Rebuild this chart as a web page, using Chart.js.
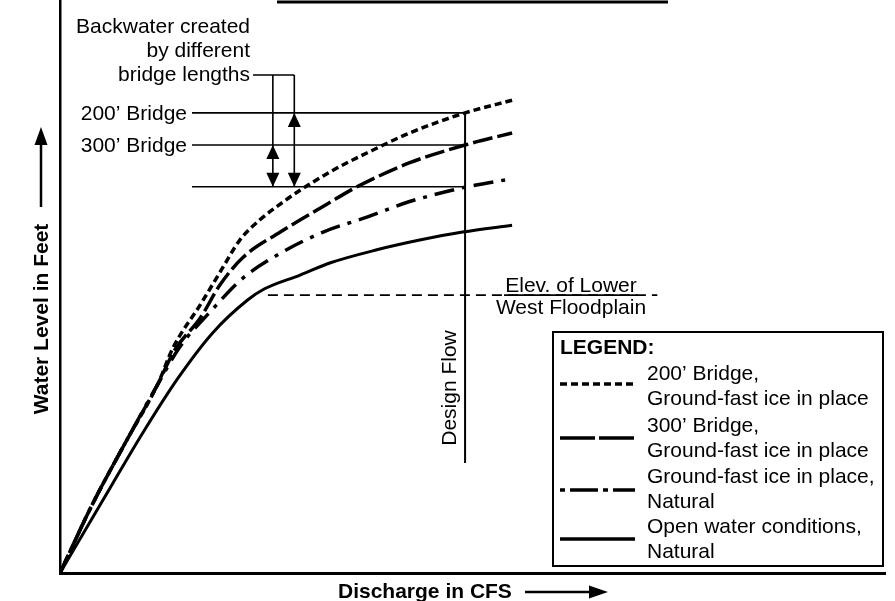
<!DOCTYPE html>
<html>
<head>
<meta charset="utf-8">
<script src="https://cdn.jsdelivr.net/npm/chart.js@4.4.0/dist/chart.umd.min.js"></script>
<style>
html,body{margin:0;padding:0;background:#fff;}
#wrap{width:895px;height:601px;position:relative;}
</style>
</head>
<body>
<div id="wrap"><canvas id="c" width="895" height="601"></canvas></div>
<script>
// ---- Data (relative units: discharge 0-100, water level 0-100) ----
const seriesNames = [
  "200' Bridge, Ground-fast ice in place",
  "300' Bridge, Ground-fast ice in place",
  "Ground-fast ice in place, Natural",
  "Open water conditions, Natural"
];
const q200 = [0, 4.0, 8.1, 11.8, 13.7, 17.0, 19.4, 21.8, 24.2, 27.0, 29.1, 33.1, 37.2, 42.4, 49.1, 54.8];
const h200 = [0, 12.2, 23.2, 32.8, 39.3, 46.8, 52.5, 58.1, 61.6, 64.7, 66.8, 70.3, 73.3, 76.8, 80.3, 82.5];
const q300 = [0, 4.0, 8.1, 11.8, 13.9, 17.0, 19.4, 22.2, 26.7, 32.4, 36.0, 42.4, 49.1, 54.8];
const h300 = [0, 12.2, 23.2, 32.8, 38.9, 44.5, 50.3, 55.1, 59.5, 64.4, 67.4, 71.6, 74.7, 76.8];
const qIce = [0, 4.0, 8.1, 11.8, 14.5, 18.4, 22.2, 26.7, 31.9, 37.2, 42.1, 47.5, 49.3, 54.8];
const hIce = [0, 12.2, 23.2, 32.8, 39.4, 45.9, 51.5, 55.8, 59.5, 62.1, 64.7, 66.8, 67.4, 68.8];
const qOpen = [0, 6.3, 10.1, 14.3, 18.5, 22.7, 24.8, 29.1, 32.7, 38.4, 43.6, 48.8, 54.8];
const hOpen = [0, 15.4, 24.6, 34.0, 41.9, 47.6, 49.6, 52.0, 54.1, 56.4, 58.1, 59.5, 60.7];

// reference levels
const bridgeLevels = [80.3, 74.7, 67.4];      // 200' bridge, 300' bridge, natural (ice)
const bridgeLevelLabels = ["200\u2019 Bridge", "300\u2019 Bridge"];
const levelLineStart = 16.0;
const designFlow = 49.1;
const designFlowRange = [19.2, 80.3];
const floodplainElev = 48.5;
const floodplainRange = [25.2, 72.4];
const arrowQ = [25.8, 28.4];
const leaderLevel = 86.9;

const zip = (xs, ys) => xs.map((v, i) => ({x: v, y: ys[i]}));
const FONT = '"Liberation Sans", Arial, Helvetica, sans-serif';

const curveStyle = [
  {dash: [7, 4], width: 3.5},
  {dash: [20, 5], width: 3.5},
  {dash: [20, 8, 4, 8], width: 3.5},
  {dash: [], width: 3}
];

const curves = [[q200, h200], [q300, h300], [qIce, hIce], [qOpen, hOpen]].map((d, i) => ({
  label: seriesNames[i],
  data: zip(d[0], d[1]),
  borderColor: '#000',
  borderWidth: curveStyle[i].width,
  borderDash: curveStyle[i].dash,
  borderCapStyle: 'butt',
  pointRadius: 0,
  cubicInterpolationMode: 'monotone',
  fill: false
}));

const refLine = (pts, w, dash) => ({
  label: '', data: pts, borderColor: '#000', borderWidth: w, borderDash: dash || [],
  pointRadius: 0, tension: 0, fill: false
});

const refs = [
  refLine([{x: levelLineStart, y: bridgeLevels[0]}, {x: designFlow, y: bridgeLevels[0]}], 1.6),
  refLine([{x: levelLineStart, y: bridgeLevels[1]}, {x: designFlow, y: bridgeLevels[1]}], 1.6),
  refLine([{x: levelLineStart, y: bridgeLevels[2]}, {x: designFlow, y: bridgeLevels[2]}], 1.6),
  refLine([{x: designFlow, y: designFlowRange[0]}, {x: designFlow, y: designFlowRange[1]}], 2),
  refLine([{x: floodplainRange[0], y: floodplainElev}, {x: floodplainRange[1], y: floodplainElev}], 1.6, [10, 6])
];

function arrowHead(ctx, x, tipY, dir) { // dir -1 up, +1 down
  ctx.beginPath();
  ctx.moveTo(x, tipY);
  ctx.lineTo(x - 6.5, tipY - dir * 14);
  ctx.lineTo(x + 6.5, tipY - dir * 14);
  ctx.closePath();
  ctx.fill();
}

const annot = {
  id: 'annot',
  afterDatasetsDraw(chart) {
    const {ctx, scales: {x, y}} = chart;
    const X = v => x.getPixelForValue(v), Y = v => y.getPixelForValue(v);
    ctx.save();
    ctx.fillStyle = '#000';
    ctx.strokeStyle = '#000';
    ctx.setLineDash([]);
    const font = (b) => (b ? 'bold ' : '') + '21px ' + FONT;

    // top frame fragment
    ctx.lineWidth = 3;
    ctx.beginPath(); ctx.moveTo(277, 2); ctx.lineTo(668, 2); ctx.stroke();

    // Backwater label
    ctx.font = font(false);
    ctx.textAlign = 'right';
    ctx.textBaseline = 'alphabetic';
    ctx.fillText('Backwater created', 250, 33);
    ctx.fillText('by different', 250, 57);
    ctx.fillText('bridge lengths', 250, 81);

    // bridge labels
    ctx.fillText(bridgeLevelLabels[0], 187, Y(bridgeLevels[0]) + 7);
    ctx.fillText(bridgeLevelLabels[1], 187, Y(bridgeLevels[1]) + 7);

    // leader and double arrows
    ctx.lineWidth = 1.6;
    ctx.beginPath();
    ctx.moveTo(253, Y(leaderLevel)); ctx.lineTo(X(arrowQ[1]), Y(leaderLevel));
    ctx.moveTo(X(arrowQ[0]), Y(leaderLevel)); ctx.lineTo(X(arrowQ[0]), Y(bridgeLevels[2]));
    ctx.moveTo(X(arrowQ[1]), Y(leaderLevel)); ctx.lineTo(X(arrowQ[1]), Y(bridgeLevels[2]));
    ctx.stroke();
    arrowHead(ctx, X(arrowQ[0]), Y(bridgeLevels[1]), -1);
    arrowHead(ctx, X(arrowQ[0]), Y(bridgeLevels[2]), 1);
    arrowHead(ctx, X(arrowQ[1]), Y(bridgeLevels[0]), -1);
    arrowHead(ctx, X(arrowQ[1]), Y(bridgeLevels[2]), 1);

    // floodplain label
    ctx.textAlign = 'center';
    const fy = Y(floodplainElev);
    ctx.fillText('Elev. of Lower', 571, fy - 3);
    ctx.fillText('West Floodplain', 571, fy + 19);
    ctx.lineWidth = 1.6;
    ctx.beginPath(); ctx.moveTo(504, fy); ctx.lineTo(638, fy); ctx.stroke();

    // Design flow label (rotated)
    ctx.save();
    ctx.translate(X(designFlow) - 9, 388);
    ctx.rotate(-Math.PI / 2);
    ctx.textAlign = 'center';
    ctx.fillText('Design Flow', 0, 0);
    ctx.restore();

    // Axis titles
    ctx.font = font(true);
    ctx.save();
    ctx.translate(48, 319);
    ctx.rotate(-Math.PI / 2);
    ctx.textAlign = 'center';
    ctx.fillText('Water Level in Feet', 0, 0);
    ctx.restore();
    ctx.lineWidth = 2.5;
    ctx.beginPath(); ctx.moveTo(41, 207); ctx.lineTo(41, 140); ctx.stroke();
    ctx.beginPath(); ctx.moveTo(41, 127); ctx.lineTo(34.5, 145); ctx.lineTo(47.5, 145); ctx.closePath(); ctx.fill();

    ctx.textAlign = 'left';
    ctx.fillText('Discharge in CFS', 338, 598);
    ctx.beginPath(); ctx.moveTo(525, 592); ctx.lineTo(592, 592); ctx.stroke();
    ctx.beginPath(); ctx.moveTo(608, 592); ctx.lineTo(589, 585.5); ctx.lineTo(589, 598.5); ctx.closePath(); ctx.fill();

    // Legend box
    ctx.lineWidth = 2;
    ctx.strokeRect(553, 332, 330, 234);
    ctx.font = font(true);
    ctx.textAlign = 'left';
    ctx.fillText('LEGEND:', 560, 354);
    ctx.font = font(false);
    const legLines = [
      ["200\u2019 Bridge,", "Ground-fast ice in place"],
      ["300\u2019 Bridge,", "Ground-fast ice in place"],
      ["Ground-fast ice in place,", "Natural"],
      ["Open water conditions,", "Natural"]
    ];
    const base = [380, 432, 483, 533];
    const sampleY = [384, 438, 490, 539];
    const sampleDash = [[7, 4], [35, 4], [28, 5, 5, 5], []];
    const sampleOff = [0, 0, 33, 0];
    legLines.forEach((l, i) => {
      ctx.fillText(l[0], 647, base[i]);
      ctx.fillText(l[1], 647, base[i] + 25);
      ctx.lineWidth = 3.5;
      ctx.setLineDash(sampleDash[i]);
      ctx.lineDashOffset = sampleOff[i];
      ctx.beginPath(); ctx.moveTo(560, sampleY[i]); ctx.lineTo(635, sampleY[i]); ctx.stroke();
      ctx.setLineDash([]);
      ctx.lineDashOffset = 0;
    });
    ctx.restore();
  }
};

new Chart(document.getElementById('c'), {
  type: 'line',
  data: {datasets: [...refs, ...curves]},
  options: {
    responsive: false,
    animation: false,
    parsing: true,
    layout: {padding: {left: 60, right: 10, top: 0, bottom: 28}},
    plugins: {legend: {display: false}, tooltip: {enabled: false}, title: {display: false}},
    scales: {
      x: {type: 'linear', min: 0, max: 100, grid: {display: false, drawTicks: false},
          ticks: {display: false}, border: {display: true, color: '#000', width: 3}},
      y: {type: 'linear', min: 0, max: 100, grid: {display: false, drawTicks: false},
          ticks: {display: false}, border: {display: true, color: '#000', width: 2.5}}
    }
  },
  plugins: [annot]
});
</script>
</body>
</html>
